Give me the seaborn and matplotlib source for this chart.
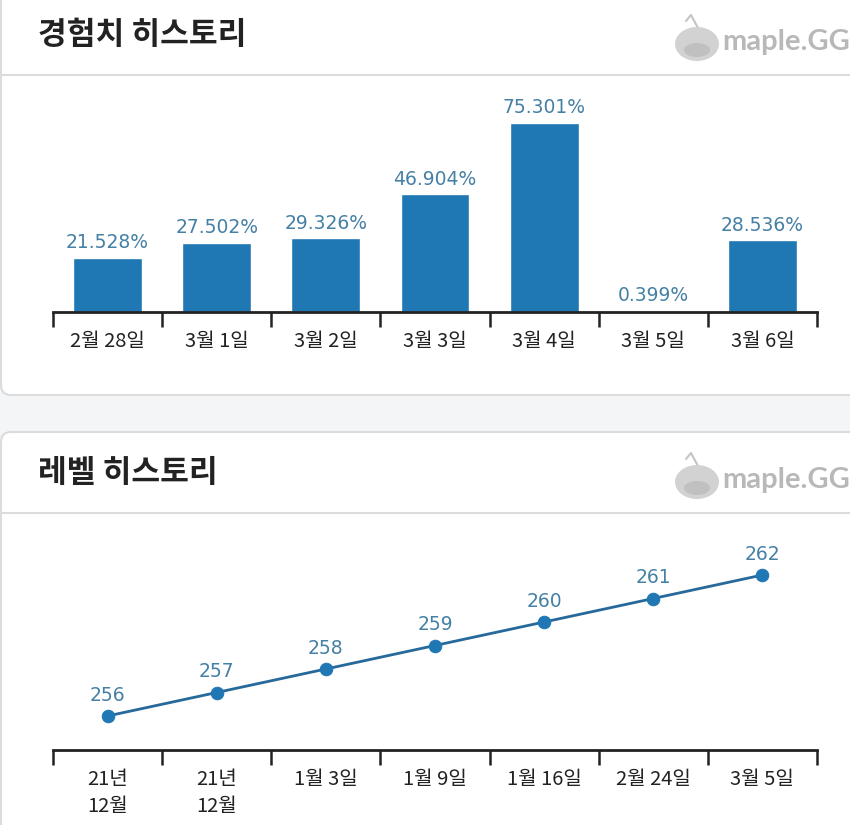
import numpy as np
import matplotlib
matplotlib.use('Agg')
import matplotlib.pyplot as plt
from matplotlib.patches import FancyBboxPatch, Ellipse
from matplotlib.lines import Line2D
import seaborn as sns

sns.set_style('white')
plt.rcParams['font.family'] = ['Noto Sans CJK KR', 'DejaVu Sans']

exp_dates = ['2월 28일', '3월 1일', '3월 2일', '3월 3일', '3월 4일', '3월 5일', '3월 6일']
exp_values = [21.528, 27.502, 29.326, 46.904, 75.301, 0.399, 28.536]

level_dates = ['21년\n12월', '21년\n12월', '1월 3일', '1월 9일', '1월 16일', '2월 24일', '3월 5일']
level_values = [256, 257, 258, 259, 260, 261, 262]

W, H = 850, 825
fig = plt.figure(figsize=(W / 100, H / 100), dpi=100, facecolor='#f4f5f7')

# white cards (pixel coords)
for x, y, w, h in [(1, 430, 900, 420), (1, -30, 900, 423)]:
    fig.patches.append(FancyBboxPatch((x, y), w, h, boxstyle='round,pad=0,rounding_size=10',
                                      facecolor='white', edgecolor='#dcdcdc', linewidth=1.5,
                                      transform=None, zorder=-2))

def header(title, ytop):
    fig.text(38 / W, 1 - ytop / H, title, fontsize=22.5, fontweight='bold', color='#222222',
             va='center', ha='left')
    fig.lines.append(Line2D([0, 1], [1 - (ytop + 40) / H] * 2, transform=fig.transFigure,
                            color='#dcdcdc', linewidth=1.5, zorder=-1))
    # maple.GG watermark
    fig.patches.append(Ellipse((697, H - ytop - 9), 44, 34, facecolor='#d2d2d2',
                               edgecolor='none', transform=None, zorder=-1))
    fig.patches.append(Ellipse((697, H - ytop - 15), 26, 14, facecolor='#c0c0c0',
                               edgecolor='none', transform=None, zorder=-1))
    fig.lines.append(Line2D([686, 691, 698], [H - ytop + 14, H - ytop + 20, H - ytop + 7],
                            transform=None, color='#c4c4c4', linewidth=1.5, zorder=-1))
    fig.text(722 / W, 1 - (ytop + 7) / H, 'maple.GG', fontsize=21, fontweight='bold',
             color='#b8b8b8', va='center', ha='left', family=['Lato', 'DejaVu Sans'])

header('경험치 히스토리', 35)
header('레벨 히스토리', 473)

label_color = '#4580a5'

def style_axis(ax, labels):
    n = len(labels)
    ax.set_xlim(-0.5, n - 0.5)
    ax.set_xticks(np.arange(n))
    ax.set_xticklabels(labels, fontsize=14.5, color='#222222', linespacing=1.35)
    ax.set_xticks(np.arange(n + 1) - 0.5, minor=True)
    ax.tick_params(axis='x', which='major', bottom=True, length=0, pad=14)
    ax.tick_params(axis='x', which='minor', bottom=True, length=11, width=1.8,
                   color='#222222', direction='out')
    ax.set_yticks([])
    ax.set_xlabel('')
    ax.set_ylabel('')
    for s in ['top', 'left', 'right']:
        ax.spines[s].set_visible(False)
    ax.spines['bottom'].set_linewidth(2)
    ax.spines['bottom'].set_color('#222222')
    ax.patch.set_alpha(0)

# bar chart
ax1 = fig.add_axes([53 / W, (H - 312) / H, 764 / W, 232 / H])
sns.barplot(x=np.arange(len(exp_values)), y=exp_values, color='#1f77b4', saturation=1,
            width=0.63, ax=ax1)
ax1.set_ylim(0, 232 / 2.51)
ax1.bar_label(ax1.containers[0], labels=[f'{v:.3f}%' for v in exp_values], padding=4,
              fontsize=13.5, color=label_color, family=['DejaVu Sans'])
style_axis(ax1, exp_dates)

# line chart
ax2 = fig.add_axes([53 / W, 75 / H, 764 / W, 230 / H])
xs = np.arange(len(level_values))
sns.lineplot(x=xs, y=level_values, color='#26699a', linewidth=2, marker='o', markersize=9,
             markerfacecolor='#1f77b4', markeredgecolor='#1f77b4', ax=ax2)
lo = level_values[0] - 34 / 23.5
ax2.set_ylim(lo, lo + 230 / 23.5)
for x, v in zip(xs, level_values):
    ax2.annotate(str(v), (x, v), xytext=(0, 8), textcoords='offset points', ha='center',
                 va='bottom', fontsize=13.5, color=label_color, family=['DejaVu Sans'])
style_axis(ax2, level_dates)

fig.savefig('out.png', dpi=100, facecolor=fig.get_facecolor())
